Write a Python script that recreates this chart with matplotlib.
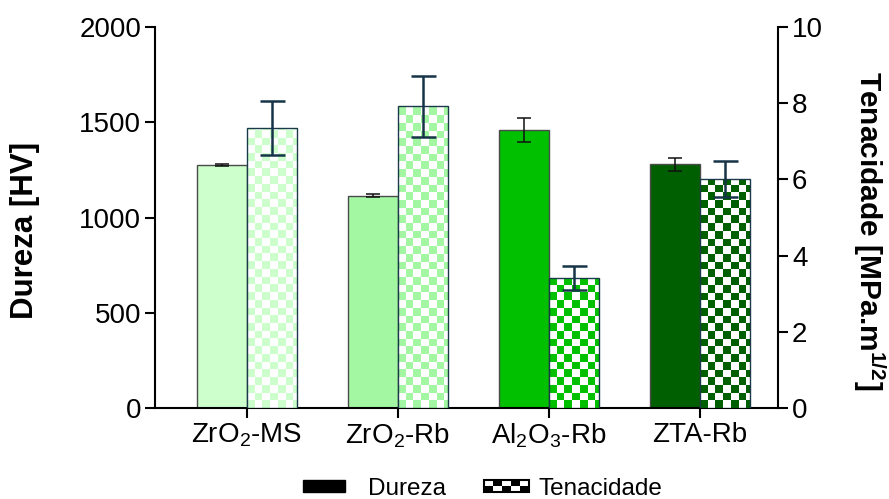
import numpy as np
import matplotlib
matplotlib.use('Agg')
import matplotlib.pyplot as plt
from matplotlib.patches import Rectangle
from matplotlib.legend_handler import HandlerBase

plt.rcParams['font.family'] = ['Liberation Sans', 'DejaVu Sans']
plt.rcParams['mathtext.fontset'] = 'custom'
plt.rcParams['mathtext.rm'] = 'Liberation Sans'
plt.rcParams['mathtext.it'] = 'Liberation Sans:italic'
plt.rcParams['mathtext.bf'] = 'Liberation Sans:bold'

# data
materials = ['ZrO$_2$-MS', 'ZrO$_2$-Rb', 'Al$_2$O$_3$-Rb', 'ZTA-Rb']
dureza = [1275, 1113, 1459, 1279]
dureza_err = [4, 8, 64, 33]
tenacidade = [7.35, 7.92, 3.41, 6.01]
tenacidade_err = [0.71, 0.80, 0.31, 0.48]
colors = ['#ccffcc', '#a3f7a3', '#00c000', '#005f00']

W, H = 889, 499
fig = plt.figure(figsize=(W / 100, H / 100), dpi=100)
ax = fig.add_axes([155 / W, 1 - 408 / H, 623 / W, 381 / H])
ax2 = ax.twinx()

x = np.arange(len(materials))
bw = 0.331
XLIM = (-0.609, 3.517)
ERR_C = '#163447'

ax.bar(x - bw / 2, dureza, bw, color=colors, edgecolor='#4a4a4a', lw=1, zorder=2)
ax.errorbar(x - bw / 2, dureza, yerr=dureza_err, fmt='none', ecolor='#111111',
            elinewidth=1.1, capsize=5, capthick=1.1, zorder=4)

bars = ax2.bar(x + bw / 2, tenacidade, bw, facecolor='none', edgecolor='#1a3a4a',
               lw=1, zorder=3)

# checkerboard fill, square size ~7.7 px
sq = 7.7
sqx = sq * (XLIM[1] - XLIM[0]) / 623
sqy = sq * 10 / 381
for b, c in zip(bars, colors):
    x0, h = b.get_x(), b.get_height()
    nx = int(np.ceil(bw / sqx))
    ny = int(np.ceil(h / sqy))
    ii, jj = np.indices((ny, nx))
    mask = (ii + jj) % 2 == 0
    rgb = np.ones((ny, nx, 3))
    rgb[mask] = matplotlib.colors.to_rgb(c)
    im = ax2.imshow(rgb, extent=[x0, x0 + nx * sqx, 0, ny * sqy], origin='lower',
                    aspect='auto', interpolation='nearest', zorder=2)
    im.set_clip_path(b)

ax2.errorbar(x + bw / 2, tenacidade, yerr=tenacidade_err, fmt='none', ecolor=ERR_C,
             elinewidth=1.8, capsize=9, capthick=1.8, zorder=4)

ax.set_xlim(*XLIM)
ax.set_ylim(0, 2000)
ax2.set_ylim(0, 10)
ax.set_yticks(np.arange(0, 2001, 500))
ax2.set_yticks(np.arange(0, 11, 2))
ax.set_xticks(x)
ax.set_xticklabels(materials)

for a in (ax, ax2):
    a.spines['top'].set_visible(False)
    for s in a.spines.values():
        s.set_linewidth(1.5)
    a.tick_params(labelsize=20, width=1.5, length=7, direction='out', pad=3)
ax.spines['right'].set_visible(False)
ax2.spines['left'].set_visible(False)
ax2.spines['bottom'].set_visible(False)

ax.set_ylabel('Dureza [HV]', fontsize=22.5, fontweight='bold', va='center')
ax.yaxis.set_label_coords(-0.209, 0.465)
ax2.set_ylabel('Tenacidade [MPa.m$^{\\mathbf{1/2}}$]', fontsize=21.5, fontweight='bold',
               rotation=270, va='center')
ax2.yaxis.set_label_coords(1.146, 0.465)


class CheckerHandler(HandlerBase):
    # checker swatch, drawn a little to the right of its slot
    def create_artists(self, legend, orig, xd, yd, width, height, fontsize, trans):
        arts = []
        ncol, nrow = 5, 2
        x0, w = -xd + 0.25 * width, 1.075 * width
        cw, ch = w / ncol, height / nrow
        for r in range(nrow):
            for k in range(ncol):
                fc = 'black' if (r + k) % 2 == 0 else 'white'
                arts.append(Rectangle((x0 + k * cw, -yd + r * ch), cw, ch,
                                      facecolor=fc, edgecolor='none', transform=trans))
        arts.append(Rectangle((x0, -yd), w, height, facecolor='none',
                              edgecolor='black', lw=1.5, transform=trans))
        return arts


h1 = Rectangle((0, 0), 1, 1, facecolor='black', edgecolor='black')
h2 = Rectangle((0, 0), 1, 1, facecolor='white', edgecolor='black')
fig.legend([h1, h2], ['Dureza', 'Tenacidade'], loc='center', ncol=2,
           bbox_to_anchor=(0.543, 0.02), frameon=False, fontsize=17.5,
           handlelength=1.7, handleheight=0.4, columnspacing=1.15,
           handletextpad=0.95, handler_map={h2: CheckerHandler()})

fig.savefig('out.png', dpi=100)
